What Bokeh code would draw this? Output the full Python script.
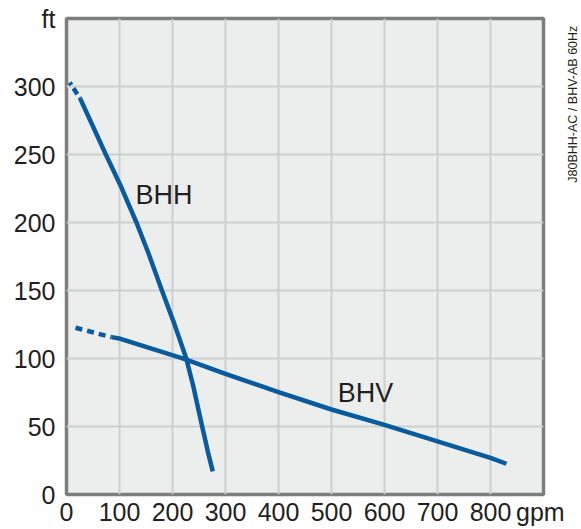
from bokeh.plotting import figure
from bokeh.layouts import row
from bokeh.models import FixedTicker, Label, Range1d
from bokeh.embed import file_html
from bokeh.resources import INLINE

# Data (flow in gpm, head in ft)
bhh_dash_q = [6, 26]
bhh_dash_h = [303, 291]
bhh_q = [26, 73, 101, 132, 155, 180, 203, 226, 239, 256, 267, 276]
bhh_h = [291, 251, 228, 200, 177, 150, 126, 100, 80, 50, 31, 17]

bhv_dash_q = [17, 85]
bhv_dash_h = [122.6, 115.7]
bhv_q = [85, 102, 222, 300, 400, 500, 600, 700, 800, 830]
bhv_h = [115.7, 114.5, 99.8, 88.7, 75.2, 62.5, 51.2, 39, 27, 22.6]

x_grid = [0, 100, 200, 300, 400, 500, 600, 700, 800, 900]
x_ticks = [0, 100, 200, 300, 400, 500, 600, 700, 800, 894]
x_tick_labels = {894: "gpm"}
y_ticks = [0, 50, 100, 150, 200, 250, 300, 350]
y_tick_labels = {350: "ft"}

series_labels = ["BHH", "BHV"]
side_note = "J80BHH-AC / BHV-AB 60Hz"

BLUE = "#0a5a9e"
FONT = "Liberation Sans"
TXT = "#231f20"

y_range = Range1d(0, 350)

p = figure(frame_width=477, frame_height=476, output_backend="svg",
           toolbar_location=None,
           x_range=Range1d(0, 900), y_range=y_range,
           min_border_left=66, min_border_right=22, min_border_top=18,
           min_border_bottom=0)

p.background_fill_color = "#eceeee"
p.border_fill_color = "white"
p.outline_line_color = "#7d7d7d"
p.outline_line_width = 3.5

p.xaxis.ticker = FixedTicker(ticks=x_ticks)
p.yaxis.ticker = FixedTicker(ticks=y_ticks)
p.xaxis.major_label_overrides = x_tick_labels
p.yaxis.major_label_overrides = y_tick_labels
p.xgrid.ticker = FixedTicker(ticks=x_grid)
p.ygrid.ticker = FixedTicker(ticks=y_ticks)
for g in (p.xgrid, p.ygrid):
    g.grid_line_color = "#cdcfcf"
    g.grid_line_width = 2

for ax in (p.xaxis, p.yaxis):
    ax.axis_line_color = None
    ax.major_tick_line_color = None
    ax.minor_tick_line_color = None
    ax.major_tick_out = 0
    ax.major_tick_in = 0
    ax.major_label_text_font = FONT
    ax.major_label_text_font_size = "25px"
    ax.major_label_text_color = TXT
p.yaxis.major_label_standoff = 11
p.xaxis.major_label_standoff = 3

p.line(bhh_dash_q, bhh_dash_h, line_color=BLUE, line_width=4.5, line_dash="3 4 7 4")
p.line(bhh_q, bhh_h, line_color=BLUE, line_width=4.5, line_join="round")
p.line(bhv_dash_q, bhv_dash_h, line_color=BLUE, line_width=4.5, line_dash="7 5")
p.line(bhv_q, bhv_h, line_color=BLUE, line_width=4.5, line_join="round")

p.add_layout(Label(x=130, y=220, text=series_labels[0], text_font=FONT,
                   text_font_size="27px", text_color=TXT,
                   text_baseline="alphabetic", text_align="left"))
p.add_layout(Label(x=512, y=74.5, text=series_labels[1], text_font=FONT,
                   text_font_size="27px", text_color=TXT,
                   text_baseline="alphabetic", text_align="left"))

# Narrow side strip carrying the vertical model note
side = figure(frame_width=16, frame_height=476, output_backend="svg",
              toolbar_location=None, x_range=Range1d(0, 1), y_range=y_range,
              x_axis_location=None, y_axis_location=None,
              min_border_left=0, min_border_right=0, min_border_top=18,
              min_border_bottom=0)
side.grid.visible = False
side.outline_line_color = None
side.background_fill_color = "white"
side.border_fill_color = "white"
side.add_layout(Label(x=0.44, y=287, text=side_note, text_font=FONT,
                      text_font_size="12.5px", text_color=TXT,
                      angle=90, angle_units="deg",
                      text_baseline="middle", text_align="center"))

layout = row(p, side, spacing=0)
open("out.html", "w").write(file_html(layout, INLINE))
